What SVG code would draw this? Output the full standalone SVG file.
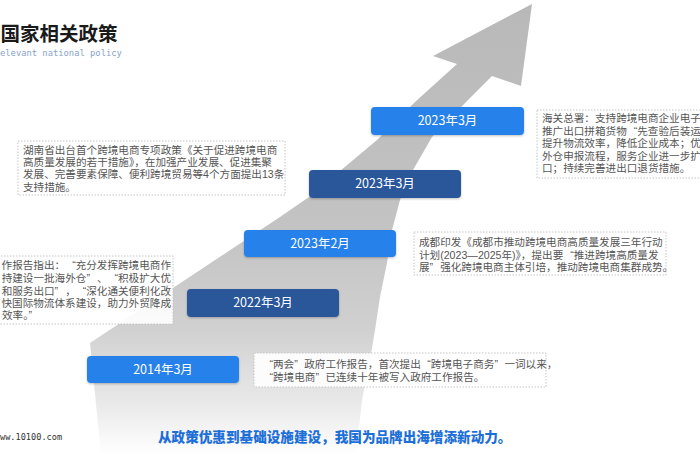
<svg xmlns="http://www.w3.org/2000/svg" width="700" height="470" viewBox="0 0 700 470">
  <defs>
    <linearGradient id="arrowGrad" gradientUnits="userSpaceOnUse" x1="0" y1="0" x2="0" y2="455">
      <stop offset="0" stop-color="#b8b8b8"/>
      <stop offset="0.5" stop-color="#c3c3c3"/>
      <stop offset="0.72" stop-color="#d0d0d0"/>
      <stop offset="0.88" stop-color="#e8e8e8"/>
      <stop offset="1" stop-color="#ffffff"/>
    </linearGradient>
    <filter id="shadow" x="-10%" y="-20%" width="120%" height="150%">
      <feDropShadow dx="0" dy="1" stdDeviation="1" flood-color="#000" flood-opacity="0.25"/>
    </filter>
    <style>
      .cjk { font-family: "Noto Sans CJK SC", "Noto Sans", sans-serif; }
      .body { font-family: "Liberation Sans", "Noto Sans CJK SC", sans-serif; font-size: 10.6px; fill: #555; }
      .qc { letter-spacing: 7px; }
      .lbl { font-family: "Noto Sans CJK SC", sans-serif; font-size: 12.5px; fill: #fff; text-anchor: middle; }
      .light { fill: #2681ea; filter: url(#shadow); }
      .dark { fill: #2c579a; filter: url(#shadow); }
      .dot { fill: #fff; fill-opacity: 0.9; stroke: #c4c4c4; stroke-width: 1; stroke-dasharray: 1.5 1.5; }
    </style>
  </defs>
  <rect x="0" y="0" width="700" height="470" fill="#ffffff"/>

  <g id="arrow">
    <path d="M532,4 L521,86 L492,76 L468,100 L432,137 L413,170 L400,200 L392,230 L387,263 L380,297 L375,330 L370,360 L362,400 L356,455 L101,455 L90,343 L280,217 L309,197 L377,140 L415,102 L457,64 L433,56 Z" fill="url(#arrowGrad)"/>
  </g>

  <g id="connectors"></g>

  <g id="title">
    <text x="0.5" y="41" class="cjk" font-size="19.5" font-weight="bold" fill="#1a1a1a">国家相关政策</text>
    <text x="0" y="55.5" font-family="DejaVu Sans Mono, monospace" font-size="8.8" fill="#86a3cb">elevant national policy</text>
  </g>

  <g id="node-2023-03-top">
    <rect x="371" y="107" width="153" height="28" rx="4" class="light"/>
    <text x="447.5" y="125.4" class="lbl">2023年3月</text>
  </g>
  <g id="node-2023-03">
    <rect x="309" y="170" width="152" height="28" rx="4" class="dark"/>
    <text x="385" y="188.4" class="lbl">2023年3月</text>
  </g>
  <g id="node-2023-02">
    <rect x="244" y="230" width="152" height="27" rx="4" class="light"/>
    <text x="320" y="247.9" class="lbl">2023年2月</text>
  </g>
  <g id="node-2022-03">
    <rect x="187" y="289" width="152" height="28" rx="4" class="dark"/>
    <text x="263" y="307.4" class="lbl">2022年3月</text>
  </g>
  <g id="node-2014-03">
    <rect x="87" y="356" width="152" height="27" rx="4" class="light"/>
    <text x="163" y="373.9" class="lbl">2014年3月</text>
  </g>

  <g id="note-hunan">
    <rect x="18" y="141" width="267" height="54" class="dot"/>
    <text class="body" x="23" y="153.5">湖南省出台首个跨境电商专项政策《关于促进跨境电商</text>
    <text class="body" x="23" y="166">高质量发展的若干措施》，在加强产业发展、促进集聚</text>
    <text class="body" x="23" y="178.3">发展、完善要素保障、便利跨境贸易等4个方面提出13条</text>
    <text class="body" x="23" y="190.6">支持措施。</text>
  </g>

  <g id="note-customs">
    <rect x="537" y="110" width="170" height="68" class="dot"/>
    <text class="body" x="542" y="122">海关总署：支持跨境电商企业电子</text>
    <text class="body" x="542" y="134.5">推广出口拼箱货物<tspan dx="7">“</tspan>先查验后装运</text>
    <text class="body" x="542" y="147">提升物流效率，降低企业成本；优</text>
    <text class="body" x="542" y="159.5">外仓申报流程，服务企业进一步扩</text>
    <text class="body" x="542" y="172">口；持续完善进出口退货措施。</text>
  </g>

  <g id="note-report">
    <rect x="-5" y="256" width="178" height="68" class="dot"/>
    <text class="body" x="171" y="269" text-anchor="end">作报告指出：<tspan dx="7">“</tspan>充分发挥跨境电商作</text>
    <text class="body" x="171" y="281.5" text-anchor="end">持建设一批海外仓<tspan class="qc">”</tspan>、<tspan dx="7">“</tspan>积极扩大优</text>
    <text class="body" x="171" y="294.5" text-anchor="end">和服务出口<tspan class="qc">”</tspan>，<tspan dx="7">“</tspan>深化通关便利化改</text>
    <text class="body" x="171" y="307" text-anchor="end">快国际物流体系建设，助力外贸降成</text>
    <text class="body" x="2" y="319">效率。<tspan class="qc">”</tspan></text>
  </g>

  <g id="note-chengdu">
    <rect x="414" y="232" width="252" height="43" class="dot"/>
    <text class="body" x="419" y="246" font-size="10.9">成都印发《成都市推动跨境电商高质量发展三年行动</text>
    <text class="body" x="419" y="258.5" font-size="10.9">计划(2023—2025年)》，提出要<tspan dx="7">“</tspan>推进跨境高质量发</text>
    <text class="body" x="419" y="271" font-size="10.9">展<tspan class="qc">”</tspan>强化跨境电商主体引培，推动跨境电商集群成势。</text>
  </g>

  <g id="note-2014">
    <rect x="254" y="353" width="292" height="34" class="dot"/>
    <text class="body" x="263" y="368" font-size="10"><tspan dx="6.5">“</tspan>两会<tspan class="qc" style="letter-spacing:6.5px">”</tspan>政府工作报告，首次提出<tspan dx="6.5">“</tspan>跨境电子商务<tspan class="qc" style="letter-spacing:6.5px">”</tspan>一词以来，</text>
    <text class="body" x="263" y="380.5" font-size="10"><tspan dx="6.5">“</tspan>跨境电商<tspan class="qc" style="letter-spacing:6.5px">”</tspan>已连续十年被写入政府工作报告。</text>
  </g>

  <g id="footer">
    <text x="158" y="442" class="cjk" font-size="13.6" font-weight="900" fill="#1d6fd8">从政策优惠到基础设施建设，我国为品牌出海增添新动力。</text>
    <text x="0" y="439.5" font-family="DejaVu Sans Mono, monospace" font-size="8.6" fill="#333">ww.10100.com</text>
  </g>
</svg>
